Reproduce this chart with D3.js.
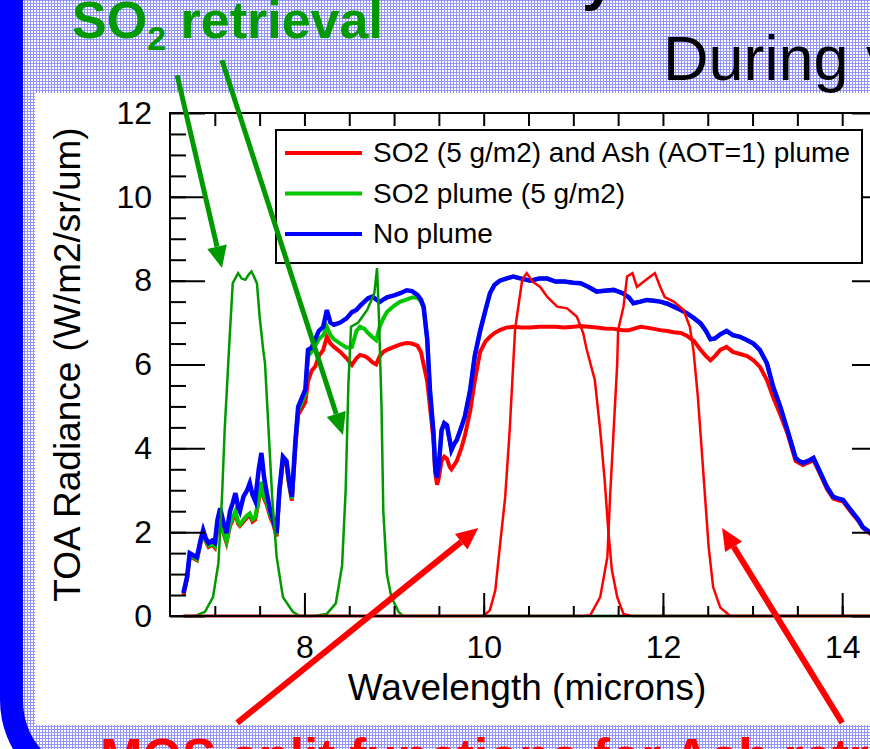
<!DOCTYPE html>
<html>
<head>
<meta charset="utf-8">
<script src="https://cdn.jsdelivr.net/npm/d3@7"></script>
<style>
  body { margin: 0; background: #fff; }
  svg { display: block; font-family: Arial, "Liberation Sans", Helvetica, sans-serif; }
</style>
</head>
<body>
<svg id="chart" width="870" height="749"></svg>
<script>
// wavelength grid (microns) shared by the three radiance curves
const wavelength = [6.65,6.69,6.72,6.76,6.80,6.84,6.87,6.90,6.93,6.97,7.00,7.03,7.06,7.10,7.13,7.17,7.20,7.23,7.26,7.28,
  7.32,7.36,7.39,7.42,7.45,7.49,7.52,7.55,7.58,7.62,7.65,7.69,7.72,7.76,7.80,7.83,7.86,7.90,7.93,7.97,
  8.01,8.04,8.08,8.12,8.16,8.21,8.25,8.29,8.33,8.40,8.47,8.53,8.58,8.62,8.67,8.71,8.76,8.80,8.84,8.88,
  8.92,9.00,9.07,9.14,9.20,9.26,9.30,9.33,9.37,9.40,9.44,9.46,9.48,9.50,9.53,9.56,9.59,9.62,9.64,9.67,
  9.70,9.75,9.79,9.85,9.90,9.96,10.02,10.07,10.12,10.18,10.25,10.33,10.42,10.52,10.62,10.71,10.80,10.90,11.00,11.08,
  11.17,11.26,11.35,11.45,11.55,11.62,11.67,11.75,11.82,11.90,11.97,12.05,12.12,12.20,12.27,12.35,12.42,12.48,12.53,12.58,
  12.64,12.71,12.78,12.86,12.94,13.01,13.08,13.16,13.23,13.31,13.39,13.48,13.52,13.56,13.62,13.68,13.75,13.83,13.90,13.96,
  14.01,14.07,14.12,14.18,14.23,14.31,14.40,14.48];

const noPlume = [0.55,0.93,1.5,1.45,1.4,1.8,2.05,1.85,1.74,1.8,1.75,2.3,2.57,2.2,1.98,2.5,2.7,2.93,2.6,2.5,
  2.85,3.0,3.17,2.9,2.75,3.5,3.89,3.3,2.93,2.5,2.3,1.98,3.0,3.8,3.7,3.2,2.84,4.2,4.99,5.2,
  5.4,6.35,6.4,6.6,6.8,6.9,7.3,7.0,6.95,7.0,7.1,7.25,7.3,7.4,7.5,7.58,7.62,7.55,7.49,7.55,
  7.6,7.65,7.7,7.77,7.75,7.66,7.55,7.38,6.6,5.4,4.36,3.5,3.3,3.6,4.43,4.6,4.55,4.2,3.96,4.1,
  4.2,4.5,4.76,5.4,6.2,6.8,7.3,7.7,7.9,8.0,8.05,8.1,8.05,8.0,8.05,8.05,7.98,7.98,7.95,7.94,
  7.85,7.74,7.76,7.78,7.7,7.6,7.46,7.5,7.54,7.52,7.5,7.45,7.38,7.3,7.22,7.1,6.98,6.8,6.6,6.62,
  6.72,6.8,6.7,6.66,6.58,6.5,6.35,6.03,5.47,4.99,4.43,3.77,3.7,3.65,3.7,3.77,3.45,3.08,2.84,2.8,
  2.77,2.6,2.46,2.3,2.12,2.0,1.85,1.75];

const so2Plume = [0.55,0.9,1.45,1.4,1.35,1.75,2.0,1.8,1.68,1.72,1.66,2.15,2.35,1.98,1.78,2.2,2.35,2.5,2.25,2.18,
  2.3,2.4,2.45,2.3,2.35,2.8,3.2,2.85,2.7,2.4,2.25,1.95,2.95,3.75,3.65,3.15,2.8,4.15,4.9,5.1,
  5.3,6.2,6.3,6.45,6.6,6.7,6.9,6.7,6.6,6.5,6.4,6.42,6.8,6.9,6.85,6.75,6.65,6.58,6.9,7.1,
  7.25,7.4,7.5,7.55,7.6,7.6,7.5,7.35,6.6,5.4,4.36,3.5,3.3,3.6,4.43,4.6,4.55,4.2,3.96,4.1,
  4.2,4.5,4.76,5.4,6.2,6.8,7.3,7.7,7.9,8.0,8.05,8.1,8.05,8.0,8.05,8.05,7.98,7.98,7.95,7.94,
  7.85,7.74,7.76,7.78,7.7,7.6,7.46,7.5,7.54,7.52,7.5,7.45,7.38,7.3,7.22,7.1,6.98,6.8,6.6,6.62,
  6.72,6.8,6.7,6.66,6.58,6.5,6.35,6.03,5.47,4.99,4.43,3.77,3.7,3.65,3.7,3.77,3.45,3.08,2.84,2.8,
  2.77,2.6,2.46,2.3,2.12,2.0,1.85,1.75];

const so2AshPlume = [0.5,0.88,1.42,1.38,1.33,1.72,1.97,1.78,1.65,1.7,1.63,2.1,2.3,1.95,1.75,2.15,2.3,2.45,2.2,2.15,
  2.25,2.35,2.4,2.25,2.3,2.75,3.1,2.8,2.65,2.35,2.2,1.9,2.9,3.7,3.6,3.1,2.75,4.05,4.8,4.95,
  5.1,5.6,5.85,5.95,6.2,6.35,6.66,6.5,6.42,6.3,6.15,5.99,6.15,6.23,6.2,6.15,6.05,6.0,6.2,6.3,
  6.35,6.42,6.48,6.51,6.5,6.45,6.3,6.0,5.6,5.0,4.2,3.4,3.13,3.3,3.7,3.8,3.75,3.56,3.5,3.6,
  3.7,4.0,4.3,4.9,5.6,6.3,6.55,6.66,6.75,6.82,6.88,6.9,6.88,6.88,6.9,6.9,6.9,6.88,6.9,6.92,
  6.9,6.88,6.86,6.85,6.82,6.82,6.85,6.9,6.88,6.85,6.82,6.8,6.77,6.75,6.68,6.55,6.35,6.2,6.1,6.2,
  6.35,6.42,6.3,6.25,6.2,6.1,5.95,5.63,5.22,4.8,4.35,3.7,3.65,3.6,3.66,3.72,3.4,3.03,2.8,2.76,
  2.73,2.56,2.42,2.27,2.1,1.97,1.82,1.72];

// instrument channel response curves (scaled to the radiance axis)
const so2BandAW = [6.65,6.78,6.89,6.98,7.04,7.08,7.11,7.15,7.17,7.20,7.26,7.30,7.34,7.38,7.41,7.47,7.50,7.54,7.56,7.60,7.64,7.69,7.76,7.87,7.95,14.5];
const so2BandAV = [0,0,0.1,0.45,1.26,2.84,4.43,6.03,6.82,7.94,8.18,8.05,8.02,8.15,8.22,7.94,7.14,6.35,6.03,4.43,2.84,1.41,0.45,0.1,0,0];
const so2BandBW = [6.65,8.10,8.25,8.35,8.42,8.46,8.49,8.52,8.60,8.70,8.78,8.81,8.83,8.86,8.88,8.92,8.97,9.05,9.10,14.5];
const so2BandBV = [0,0,0.05,0.3,1.2,3.0,5.5,6.9,7.0,7.3,7.7,8.3,7.2,5.0,2.5,1.0,0.45,0.1,0,0];
const ashBandAW = [6.65,10.00,10.07,10.13,10.18,10.24,10.29,10.33,10.35,10.37,10.43,10.48,10.55,10.63,10.71,10.82,10.93,11.04,11.11,11.15,11.24,11.30,11.35,11.39,11.43,11.49,11.56,11.65,14.5];
const ashBandAV = [0,0,0.14,0.62,1.65,2.84,4.43,6.03,6.82,7.14,8.02,8.18,7.97,7.85,7.61,7.38,7.34,7.14,6.75,6.35,5.63,4.43,3.24,2.05,1.1,0.45,0.05,0,0];
const ashBandBW = [6.65,11.10,11.19,11.30,11.38,11.41,11.45,11.49,11.50,11.56,11.60,11.66,11.71,11.78,11.86,11.91,11.97,12.02,12.12,12.23,12.30,12.34,12.36,12.39,12.43,12.47,12.51,12.56,12.64,12.75,14.5];
const ashBandBV = [0,0,0.02,0.45,1.41,2.84,4.43,6.03,6.82,7.38,8.1,8.18,7.85,7.97,8.1,8.18,7.85,7.61,7.5,7.3,6.9,6.35,5.9,5.22,4.04,2.84,1.65,0.69,0.2,0,0];

const xMajor = [8, 10, 12, 14];
const yMajor = [0, 2, 4, 6, 8, 10, 12];
const legendLabels = ['SO2 (5 g/m2) and Ash (AOT=1) plume', 'SO2 plume (5 g/m2)', 'No plume'];
const legendColors = ['#ff0000', '#00c800', '#0000ff'];

const svg = d3.select('#chart');
const W = 870, H = 749;

// slide background pattern
const defs = svg.append('defs');
const pat = defs.append('pattern').attr('id', 'slidebg')
  .attr('width', 3).attr('height', 3).attr('patternUnits', 'userSpaceOnUse');
pat.append('rect').attr('width', 3).attr('height', 3).attr('fill', '#ffffff');
pat.append('rect').attr('width', 3).attr('height', 1).attr('fill', '#9494ff');
pat.append('rect').attr('width', 1).attr('height', 3).attr('fill', '#9494ff');

svg.append('rect').attr('width', W).attr('height', H).attr('fill', '#fff');
svg.append('rect')
  .attr('x', 11.5).attr('y', -200)
  .attr('width', 2000).attr('height', 987.5)
  .attr('rx', 87.5).attr('ry', 87.5)
  .attr('fill', 'url(#slidebg)')
  .attr('stroke', '#0000ff').attr('stroke-width', 23);

// white panel behind the chart
svg.append('rect').attr('x', 35).attr('y', 93).attr('width', 900).attr('height', 632).attr('fill', '#fff');

// slide title fragments (mostly above the crop)
svg.append('text').attr('x', 582).attr('y', -1)
  .attr('font-size', 60).attr('font-weight', 'bold').attr('fill', '#000')
  .text('y to SO2 and Ash');
svg.append('text').attr('x', 663).attr('y', 80)
  .attr('font-size', 63).attr('fill', '#000')
  .text('During volcanic eruptions');

const so2Label = svg.append('text').attr('x', 72).attr('y', 38)
  .attr('font-size', 52).attr('font-weight', 'bold').attr('fill', '#009900');
so2Label.append('tspan').text('SO');
so2Label.append('tspan').attr('font-size', 34).attr('dy', 12).text('2');
so2Label.append('tspan').attr('dy', -12).text(' retrieval');

// plot
const x = d3.scaleLinear().domain([6.5, 14.5]).range([170, 887]);
const y = d3.scaleLinear().domain([0, 12]).range([616, 113]);
const g = svg.append('g');

const line = d3.line().x(d => x(d[0])).y(d => y(d[1]));
const pairs = (ws, vs) => ws.map((w, i) => [w, vs[i]]);

const drawCurve = (ws, vs, color, width) => {
  g.append('path')
    .datum(pairs(ws, vs))
    .attr('d', line)
    .attr('fill', 'none')
    .attr('stroke', color)
    .attr('stroke-width', width)
    .attr('stroke-linejoin', 'miter');
};

drawCurve(wavelength, so2AshPlume, '#ff0000', 4);
drawCurve(wavelength, so2Plume, '#00c800', 4);
drawCurve(wavelength, noPlume, '#0000ff', 4.5);
drawCurve(so2BandAW, so2BandAV, '#009900', 2.5);
drawCurve(so2BandBW, so2BandBV, '#009900', 2.5);
drawCurve(ashBandAW, ashBandAV, '#ff0000', 2.5);
drawCurve(ashBandBW, ashBandBV, '#ff0000', 2.5);

// frame
g.append('rect')
  .attr('x', x(6.5)).attr('y', y(12))
  .attr('width', x(14.5) - x(6.5)).attr('height', y(0) - y(12))
  .attr('fill', 'none').attr('stroke', '#000').attr('stroke-width', 2);

const minorX = d3.range(7, 14.5, 0.5);
const minorY = d3.range(0.5, 12, 0.5);

const styleAxis = sel => {
  sel.select('.domain').remove();
  sel.selectAll('line').attr('stroke', '#000').attr('stroke-width', 2);
  sel.selectAll('text').attr('fill', '#000').attr('font-size', 32).attr('font-family', 'Arial, "Liberation Sans", sans-serif');
};

g.append('g').attr('transform', `translate(${x(6.5)},0)`)
  .call(d3.axisLeft(y).tickValues(minorY).tickSizeInner(-16).tickSizeOuter(0).tickFormat(''))
  .call(styleAxis);
g.append('g').attr('transform', `translate(${x(6.5)},0)`)
  .call(d3.axisLeft(y).tickValues(yMajor).tickSizeInner(-35).tickSizeOuter(0).tickPadding(18).tickFormat(d3.format('d')))
  .call(styleAxis);
g.append('g').attr('transform', `translate(${x(14.5)},0)`)
  .call(d3.axisRight(y).tickValues(minorY).tickSizeInner(-16).tickSizeOuter(0).tickFormat(''))
  .call(styleAxis);
g.append('g').attr('transform', `translate(${x(14.5)},0)`)
  .call(d3.axisRight(y).tickValues(yMajor).tickSizeInner(-35).tickSizeOuter(0).tickFormat(''))
  .call(styleAxis);
g.append('g').attr('transform', `translate(0,${y(0)})`)
  .call(d3.axisBottom(x).tickValues(minorX).tickSizeInner(-10).tickSizeOuter(0).tickFormat(''))
  .call(styleAxis);
g.append('g').attr('transform', `translate(0,${y(0)})`)
  .call(d3.axisBottom(x).tickValues(xMajor).tickSizeInner(-23).tickSizeOuter(0).tickPadding(19).tickFormat(d3.format('d')))
  .call(styleAxis);
g.append('g').attr('transform', `translate(0,${y(12)})`)
  .call(d3.axisTop(x).tickValues(minorX).tickSizeInner(-13).tickSizeOuter(0).tickFormat(''))
  .call(styleAxis);

// axis titles
g.append('text')
  .attr('x', 527).attr('y', 700)
  .attr('text-anchor', 'middle').attr('font-size', 37).attr('fill', '#000')
  .text('Wavelength (microns)');
g.append('text')
  .attr('transform', `translate(80,${(y(0) + y(12)) / 2}) rotate(-90)`)
  .attr('text-anchor', 'middle').attr('font-size', 37).attr('fill', '#000')
  .text('TOA Radiance (W/m2/sr/um)');

// legend
const legend = g.append('g').attr('transform', 'translate(276,130)');
legend.append('rect').attr('width', 586).attr('height', 133)
  .attr('fill', '#fff').attr('stroke', '#000').attr('stroke-width', 2);
legendLabels.forEach((label, i) => {
  const ly = 23 + i * 40.5;
  legend.append('line').attr('x1', 9).attr('x2', 86).attr('y1', ly).attr('y2', ly)
    .attr('stroke', legendColors[i]).attr('stroke-width', 4);
  legend.append('text').attr('x', 97).attr('y', ly + 9)
    .attr('font-size', 28).attr('fill', '#000').text(label);
});

// annotation arrows, endpoints in data units
const arrows = [
  { from: [6.58, 12.9], to: [7.08, 8.3], color: '#009900', width: 5 },
  { from: [7.08, 13.26], to: [8.43, 4.32], color: '#009900', width: 5 },
  { from: [7.25, -2.55], to: [9.94, 2.1], color: '#ff0000', width: 6 },
  { from: [14.0, -2.55], to: [12.66, 2.1], color: '#ff0000', width: 6 }
];
arrows.forEach(a => {
  const x1 = x(a.from[0]), y1 = y(a.from[1]), x2 = x(a.to[0]), y2 = y(a.to[1]);
  const ang = Math.atan2(y2 - y1, x2 - x1);
  const hl = 22, hw = 10;
  const bx = x2 - hl * Math.cos(ang), by = y2 - hl * Math.sin(ang);
  svg.append('line').attr('x1', x1).attr('y1', y1).attr('x2', bx).attr('y2', by)
    .attr('stroke', a.color).attr('stroke-width', a.width);
  svg.append('path')
    .attr('d', `M${x2},${y2}L${bx + hw * Math.sin(ang)},${by - hw * Math.cos(ang)}L${bx - hw * Math.sin(ang)},${by + hw * Math.cos(ang)}Z`)
    .attr('fill', a.color);
});

// bottom slide caption (cut off by the crop)
svg.append('text').attr('x', 100).attr('y', 775)
  .attr('font-size', 51).attr('font-weight', 'bold').attr('fill', '#ff0000')
  .text('MOS split functions for Ash retrieval');
</script>
</body>
</html>
